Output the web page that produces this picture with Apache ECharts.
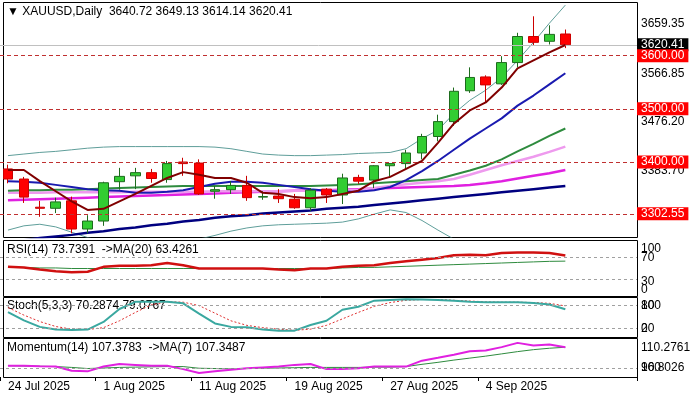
<!DOCTYPE html>
<html>
<head>
<meta charset="utf-8">
<script src="https://cdn.jsdelivr.net/npm/echarts@6/dist/echarts.min.js"></script>
<style>html,body{margin:0;padding:0;background:#fff}#chart{width:700px;height:400px}</style>
</head>
<body>
<div id="chart"></div>
<script>
const dates = ['24 Jul 2025','25 Jul 2025','28 Jul 2025','29 Jul 2025','30 Jul 2025','31 Jul 2025','1 Aug 2025','4 Aug 2025','5 Aug 2025','6 Aug 2025','7 Aug 2025','8 Aug 2025',
  '11 Aug 2025','12 Aug 2025','13 Aug 2025','14 Aug 2025','15 Aug 2025','18 Aug 2025','19 Aug 2025','20 Aug 2025','21 Aug 2025','22 Aug 2025','25 Aug 2025','26 Aug 2025',
  '27 Aug 2025','28 Aug 2025','29 Aug 2025','1 Sep 2025','2 Sep 2025','3 Sep 2025','4 Sep 2025','5 Sep 2025','8 Sep 2025','9 Sep 2025','10 Sep 2025','11 Sep 2025',
  '12 Sep 2025','15 Sep 2025','16 Sep 2025','17 Sep 2025'];
const labelEvery = 6, lastLabel = 30;

// [open, close, low, high]
const ohlc = [
  [3387,3368,3360,3395],[3368,3334,3323,3372],[3315,3313,3297,3327],[3313,3325,3304,3333],
  [3327,3274,3266,3335],[3274,3289,3266,3300],[3289,3361,3280,3363],[3363,3373,3348,3389],
  [3374,3380,3349,3389],[3380,3369,3361,3387],[3367,3397,3361,3402],[3400,3397,3374,3408],
  [3398,3340,3338,3405],[3345,3348,3331,3355],[3348,3356,3340,3364],[3356,3333,3327,3374],
  [3334,3335,3329,3345],[3336,3331,3323,3349],[3330,3314,3312,3340],[3314,3347,3308,3351],
  [3349,3338,3323,3351],[3338,3370,3321,3378],[3371,3364,3359,3376],[3366,3393,3351,3394],
  [3393,3397,3372,3398],[3397,3417,3386,3423],[3417,3448,3405,3453],[3448,3476,3439,3489],
  [3476,3533,3468,3540],[3534,3559,3530,3578],[3560,3545,3512,3563],[3547,3587,3545,3599],
  [3587,3636,3578,3643],[3636,3625,3620,3674],[3627,3640,3621,3657],[3640.72,3620.41,3614.14,3649.13]];

const maFast = [3385,3385,3364,3345,3326,3310,3312,3326,3340,3355,3370,3381,3376,3370,3370,3361,3342,3340,
  3334,3332,3334,3340,3346,3364,3372,3387,3402,3436,3472,3497,3512,3540,3576,3591,3606,3620];
const maBlue = [3364,3363,3361,3357,3353,3349,3347,3346,3342,3342,3344,3347,3353,3359,3363,3363,3361,3357,
  3353,3349,3346,3344,3344,3347,3353,3366,3383,3402,3423,3444,3463,3482,3506,3525,3546,3567];
const maGreen = [3346,3347,3347,3348,3348,3349,3350,3351,3352,3353,3354,3355,3355,3355,3355,3355,3355,3355,
  3355,3355,3356,3357,3358,3360,3362,3364,3366,3368,3376,3384,3393,3405,3420,3434,3449,3463];
const maPink = [3342,3342,3342,3343,3343,3343,3343,3343,3344,3344,3344,3344,3344,3345,3345,3345,3345,3345,
  3346,3346,3346,3346,3348,3351,3355,3358,3361,3364,3368,3376,3385,3394,3402,3410,3419,3429];
const maMagenta = [3328,3329,3330,3331,3332,3333,3334,3335,3336,3337,3338,3339,3340,3341,3342,3343,3344,3345,
  3346,3347,3347,3348,3349,3350,3351,3352,3353,3354,3355,3357,3360,3364,3369,3374,3379,3385];
const maNavy = [3249,3253,3257,3260,3263,3267,3270,3274,3277,3281,3284,3288,3291,3295,3298,3300,3303,3305,
  3307,3309,3312,3314,3316,3319,3322,3325,3328,3331,3334,3337,3340,3343,3346,3349,3352,3355];
const bandUp = [3412,3415,3418,3420,3423,3426,3428,3429,3429,3429,3429,3429,3429,3428,3425,3420,3415,3413,
  3412,3412,3413,3414,3416,3417,3418,3425,3444,3460,3491,3516,3535,3559,3591,3625,3661,3695];
const bandLow = [3272,3280,3283,3278,3268,3258,3250,3245,3242,3240,3242,3248,3255,3262,3270,3276,3280,3282,
  3283,3284,3285,3287,3293,3302,3310,3305,3290,3272,3255,3238,3220,3200,3185,3170,3155,3140];

const rsi = [53,52,48,45,43,44,53,55,55,56,60,56,50,50,50,50,50,48,47,50,50,53,55,56,60,63,66,69,74,75,74,78,79,79,78,73.7];
const rsiMa = [52,52,51,51,50,50,50,50,50,50,50,50,50,50,50,50,50,50,50,50,50,51,52,52,53,54,55,56,57,58,59,60,61,62,63,63.4];
const stochK = [63,41,24,17,16,17,37,71,90,90,90,86,59,33,24,23,17,14,14,29,40,69,77,93,95,97,96,95,93,90,89,89,89,87,83,70.3];
const stochD = [75,55,38,25,18,17,22,40,62,82,90,89,80,60,40,28,22,18,15,18,28,45,62,78,88,94,96,96,94,92,90,89,89,88,86,79.1];
const momentum = [100.8,100.8,100.6,100.5,99,98.8,100.5,101.4,101.1,100.8,100.8,99.6,98.2,98.8,99.4,99.9,100.2,100.5,
  101.1,101.4,99.6,99.6,99.9,100.5,100.5,100.5,102.6,103.6,104.7,105.9,106.2,107.4,108.9,108,108.3,107.38];
const momMa = [100.8,100.7,100.6,100.5,100.2,99.8,100,100.2,100.3,100.4,100.5,100.5,99.9,99.8,99.7,99.8,99.9,100,
  100.1,100.2,100.2,100.2,100.2,100.3,100.3,100.5,101.3,102,102.8,103.5,104.2,105,105.8,106.5,107,107.35];

const redLevels = [3600, 3500, 3400, 3302.55];
const plainLevels = [3659.35, 3566.85, 3476.20, 3383.70];
const lastPrice = 3620.41;
// [value, text, vertical shift]
const rsiLabels = [[99.5, '100', 7], [70, '70', 0], [30, '30', 2], [0.5, '0', -6]];
const stochLabels = [[80, '100', 0], [80, '80', 0], [20, '0', 0], [20, '20', 0]];
const momLabels = [[110.27, '110.2761', 9], [100, '100', 0], [100, '96.8026', 0]];

const FONT = 'Liberation Sans';
const chart = echarts.init(document.getElementById('chart'));

const grids = [
  {left: -3, right: 63, top: 3, height: 234},
  {left: -3, right: 63, top: 241, height: 55},
  {left: -3, right: 63, top: 298, height: 38},
  {left: -3, right: 63, top: 339, height: 38}
];
const xAxes = grids.map((g, i) => ({
  type: 'category', gridIndex: i, data: dates, boundaryGap: true,
  axisLine: {show: false},
  axisTick: {show: i === 3, length: 4, lineStyle: {color: '#000'},
    interval: idx => idx % labelEvery === 0 && idx <= lastLabel},
  axisLabel: {show: i === 3, align: 'left', margin: 4, fontFamily: FONT, fontSize: 12, color: '#000',
    interval: idx => idx % labelEvery === 0 && idx <= lastLabel}
}));
const yRanges = [[3259, 3699], [0, 100], [0, 100], [96.8026, 110.2761]];
const yAxes = yRanges.map((r, i) => ({
  type: 'value', gridIndex: i, min: r[0], max: r[1], position: 'right',
  axisLine: {show: false}, axisTick: {show: false}, axisLabel: {show: false}, splitLine: {show: false}
}));

function line(data, color, width, xi, extra) {
  return Object.assign({type: 'line', data, xAxisIndex: xi, yAxisIndex: xi, symbol: 'none',
    lineStyle: {color, width}, z: 3, silent: true}, extra || {});
}
function plainMark(v, text, dy) {
  return {yAxis: v, lineStyle: {color: 'rgba(0,0,0,0)', width: 0},
    label: {show: true, position: 'end', distance: 4, offset: [0, dy || 0], formatter: text, color: '#000', fontFamily: FONT, fontSize: 12}};
}
function axisMarks(labels, dashed) {
  const d = labels.map(l => plainMark(l[0], l[1], l[2]));
  dashed.forEach(v => d.push({yAxis: v, lineStyle: {color: '#a0a0a0', type: [3, 3], width: 1}, label: {show: false}}));
  return {symbol: 'none', silent: true, data: d};
}

const mainMarks = [];
plainLevels.forEach(v => mainMarks.push(plainMark(v, v.toFixed(2), 0)));
mainMarks.push({yAxis: lastPrice, lineStyle: {color: '#c0c0c0', type: 'solid', width: 1},
  label: {show: true, position: 'end', distance: 0, formatter: lastPrice.toFixed(2), color: '#fff',
    backgroundColor: '#000', padding: [1, 4, 0, 4], fontFamily: FONT, fontSize: 12}});
redLevels.forEach(v => mainMarks.push({yAxis: v, lineStyle: {color: '#c03030', type: [4, 3], width: 1},
  label: {show: true, position: 'end', distance: 0, formatter: v.toFixed(2), color: '#fff',
    backgroundColor: '#ff0000', padding: [1, 4, 0, 4], fontFamily: FONT, fontSize: 12}}));

const option = {
  animation: false,
  backgroundColor: '#fff',
  grid: grids,
  xAxis: xAxes,
  yAxis: yAxes,
  series: [
    line(bandUp, '#5f9e9a', 1, 0),
    line(bandLow, '#5f9e9a', 1, 0),
    line(maNavy, '#000080', 2.5, 0),
    line(maMagenta, '#e020e0', 2.5, 0),
    line(maPink, '#ee9aee', 2.5, 0),
    line(maGreen, '#2e8b3e', 2, 0),
    line(maBlue, '#1a1ab0', 2, 0),
    {type: 'candlestick', data: ohlc, xAxisIndex: 0, yAxisIndex: 0, barWidth: 10, z: 4,
      itemStyle: {color: '#32cd32', color0: '#ff0000', borderColor: '#1d6b1d', borderColor0: '#cc0000', borderWidth: 1},
      markLine: {symbol: 'none', silent: true, data: mainMarks}},
    line(maFast, '#800000', 2, 0, {z: 5}),
    line(rsiMa, '#2e8b3e', 1, 1, {markLine: axisMarks(rsiLabels, [70, 30])}),
    line(rsi, '#d01010', 2.5, 1),
    line(stochD, '#e03030', 1, 2, {lineStyle: {color: '#e03030', width: 1, type: [2, 2]}, markLine: axisMarks(stochLabels, [80, 20])}),
    line(stochK, '#3aa8a0', 2, 2),
    line(momMa, '#2e8b3e', 1, 3, {markLine: axisMarks(momLabels, [100])}),
    line(momentum, '#e020e0', 2, 3)
  ],
  graphic: [
    {type: 'rect', shape: {x: 3.5, y: 2.5, width: 634, height: 235}, style: {fill: null, stroke: '#000', lineWidth: 1}, silent: true},
    {type: 'rect', shape: {x: 3.5, y: 240.5, width: 634, height: 56}, style: {fill: null, stroke: '#000', lineWidth: 1}, silent: true},
    {type: 'rect', shape: {x: 3.5, y: 297.5, width: 634, height: 40}, style: {fill: null, stroke: '#000', lineWidth: 1}, silent: true},
    {type: 'rect', shape: {x: 3.5, y: 338.5, width: 634, height: 39}, style: {fill: null, stroke: '#000', lineWidth: 1}, silent: true},
    {type: 'text', left: 7, top: 6, style: {text: '▼ XAUUSD,Daily  3640.72 3649.13 3614.14 3620.41', font: '12px ' + FONT, fill: '#000'}},
    {type: 'text', left: 7, top: 244, style: {text: 'RSI(14) 73.7391  ->MA(20) 63.4261', font: '12px ' + FONT, fill: '#000'}},
    {type: 'text', left: 7, top: 300, style: {text: 'Stoch(5,3,3) 70.2874 79.0767', font: '12px ' + FONT, fill: '#000'}},
    {type: 'text', left: 7, top: 342, style: {text: 'Momentum(14) 107.3783  ->MA(7) 107.3487', font: '12px ' + FONT, fill: '#000'}}
  ]
};
chart.setOption(option);
</script>
</body>
</html>
